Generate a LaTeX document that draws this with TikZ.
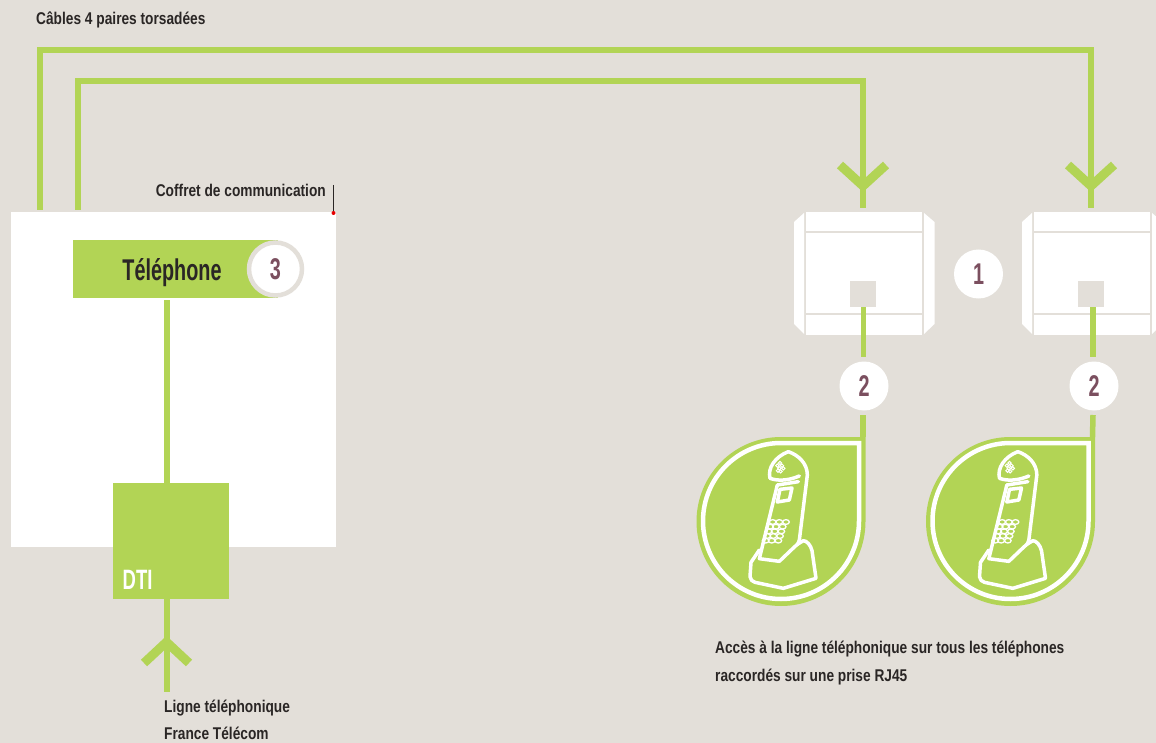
\documentclass[tikz,border=0pt]{standalone}
\usepackage{fontspec}
\setmainfont[FakeStretch=0.807]{Liberation Sans}
\newfontfamily\condfont[FakeStretch=0.66]{Liberation Sans}
\definecolor{bgc}{HTML}{E3DFD9}
\definecolor{grn}{HTML}{B2D455}
\definecolor{plum}{HTML}{7B4F5F}
\definecolor{ink}{HTML}{2A2625}
\tikzset{
  cable/.style={draw=grn,line width=5.5pt,line cap=butt},
  chev/.style={draw=grn,line width=9pt,line cap=butt,miter limit=10},
  block/.style={fill=white,draw=none,inner sep=0,outer sep=0},
  num/.style={circle,fill=white,draw=none,inner sep=0,minimum size=49pt,text=plum,font=\condfont\bfseries\fontsize{30}{30}\selectfont},
  lbl/.style={inner sep=0,anchor=base west,text=ink,font=\bfseries\fontsize{17}{17}\selectfont},
  sep/.style={draw=bgc,line width=2.5pt},
  pen/.style={draw=white,line width=3.5pt,line join=round,line cap=round},
}
\newcommand{\socket}[2]{%
  \begin{scope}[shift={(#1,0)}]
    \node[block,minimum width=116pt,minimum height=123pt,anchor=north west] (#2) at (806,212) {};
    \fill[white] (794,222) -- (804,213) -- (804,334) -- (794,324) -- cycle;
    \fill[white] (924,213) -- (934.5,222) -- (934.5,324) -- (924,334) -- cycle;
    \draw[sep] (806,232) -- (922,232);
    \draw[sep] (806,314) -- (922,314);
    \node[fill=bgc,inner sep=0,minimum size=26pt,anchor=north west] (#2p) at (850,281) {};
  \end{scope}}
\newcommand{\phonedrop}[2]{%
  \begin{scope}[shift={(#1,0)}]
    \fill[grn] (865.5,437) -- (781,437) arc[start angle=-90,end angle=-360,radius=84.5] -- cycle;
    \draw[white,line width=4.5pt] (859,443) -- (781,443) arc[start angle=-90,end angle=-360,radius=78] -- cycle;
    \coordinate (#2) at (863,437);
    \begin{scope}[shift={(690,400)},x=1pt/3,y=-1pt/3]
      \draw[pen] (240,235) .. controls (232,205) and (255,170) .. (295,155)
        .. controls (325,165) and (352,190) .. (352,225) -- (328,420)
        .. controls (325,432) and (320,436) .. (312,442) -- (268,484) -- (208,476) -- (262,255);
      \draw[pen] (240,235) .. controls (268,245) and (300,240) .. (328,228);
      \draw[pen] (262,255) -- (325,245);
      \draw[pen] (270,268) -- (306,264) -- (298,300) -- (262,306) -- cycle;
      \draw[pen] (208,450) -- (183,487) -- (180,530) .. controls (182,540) and (186,544) .. (195,547)
        -- (280,565) -- (378,535) -- (366,452) .. controls (362,435) and (350,422) .. (340,422) -- (322,433);
      \foreach \r/\xs in {0/{248,268,288},1/{240,258,278},2/{236,254,274},3/{232,250,270},4/{227,245,265}}{
        \foreach \x in \xs { \draw[white,line width=1.3pt] (\x,{366+\r*14}) ellipse[x radius=10,y radius=7]; }
      }
      \foreach \p in {(268,205),(276,197),(262,197),(270,189),(264,212),(280,205),(272,214)}
        \draw[white,line width=1pt] \p circle[radius=5];
    \end{scope}
  \end{scope}}
\begin{document}
\begin{tikzpicture}[x=1pt,y=-1pt]
\useasboundingbox (0,0) rectangle (1156,743);
\fill[bgc] (0,0) rectangle (1156,743);

% coffret
\node[block,minimum width=325pt,minimum height=335pt,anchor=north west] (coffret) at (11,212) {};
\coordinate (c1start) at (40,210);
\coordinate (c1a) at (40,50);
\coordinate (c1b) at (1091,50);
\coordinate (c1end) at (1091,208);
\coordinate (c2start) at (78,210);
\coordinate (c2a) at (78,81);
\coordinate (c2b) at (863,81);
\coordinate (c2end) at (863,208);
\draw[cable,line join=miter] (c1start) -- (c1a) -- (c1b) -- (c1end);
\draw[cable,line join=miter] (c2start) -- (c2a) -- (c2b) -- (c2end);
\draw[chev] (840,165) -- (863,186) -- (886,165);
\draw[chev] (1068,165) -- (1091,186) -- (1114,165);

% telephone bar
\node[fill=grn,inner sep=0,minimum width=205pt,minimum height=58pt,anchor=north west] (bar) at (73,240) {};
\node[inner sep=0,anchor=base,text=ink,font=\condfont\bfseries\fontsize{30}{30}\selectfont] (tel) at (172,280) {Téléphone};
\node[circle,fill=white,draw=bgc,line width=4.5pt,inner sep=0,minimum size=53pt,text=plum,font=\condfont\bfseries\fontsize{30}{30}\selectfont] (n3) at (275.5,269) {3};

% DTI
\node[fill=grn,inner sep=0,minimum size=116pt,anchor=north west] (dti) at (113,483) {};
\node[inner sep=0,anchor=base west,text=white,font=\condfont\bfseries\fontsize{28}{28}\selectfont] (dtilabel) at (122.5,589.5) {DTI};
\coordinate (barout) at (167,300);
\coordinate (dtiin) at (167,484);
\coordinate (dtiout) at (167,598);
\coordinate (lineend) at (167,692);
\draw[cable] (barout) -- (dtiin);
\draw[cable] (dtiout) -- (lineend);
\draw[chev] (144,663) -- (166.5,642) -- (189,663);

% sockets
\socket{0}{sa}
\socket{228}{sb}
\node[num] (n1) at (978.5,274) {1};
\node[num] (n2a) at (864,386) {2};
\node[num] (n2b) at (1094,386) {2};
\phonedrop{0}{pa}
\phonedrop{229.5}{pb}
\draw[cable] (863.3,307) -- (863.3,357);
\draw[cable] (1093,307) -- (1093,357);
\draw[cable] (863,415) -- (pa);
\draw[cable] (1093,415) -- (pb);

% callout
\coordinate (calltop) at (333.5,185);
\coordinate (calldot) at (333.5,213);
\draw[ink,line width=1pt] (calltop) -- (calldot);
\fill[red!90!black] (calldot) circle[radius=2];

% labels
\node[lbl] (t1) at (36,25) {Câbles 4 paires torsadées};
\node[lbl,anchor=base east] (t2) at (326,197) {Coffret de communication};
\node[lbl] (t3) at (164,712) {Ligne téléphonique};
\node[lbl] (t4) at (164,739.5) {France Télécom};
\node[lbl] (t5) at (715,653) {Accès à la ligne téléphonique sur tous les téléphones};
\node[lbl] (t6) at (715,681) {raccordés sur une prise RJ45};
\end{tikzpicture}
\end{document}
